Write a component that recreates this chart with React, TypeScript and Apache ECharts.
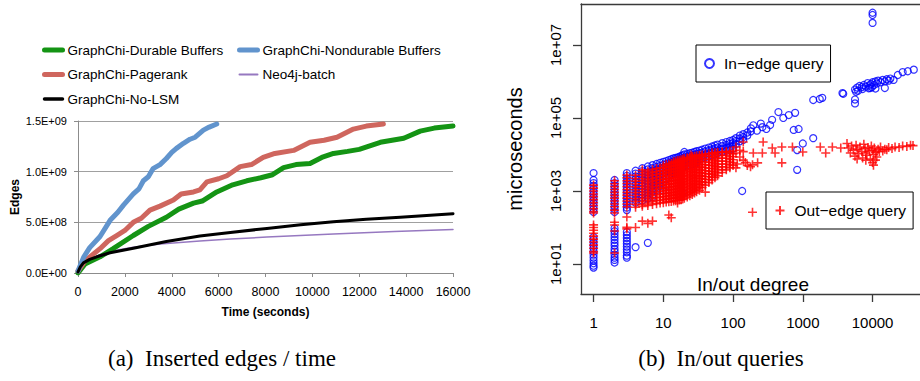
import React, { useEffect, useRef } from 'react';
import * as echarts from 'echarts';

const SANS = '"Liberation Sans", Arial, sans-serif';
const SERIF = '"Liberation Serif", "Times New Roman", serif';

// ---------- (a) Inserted edges / time ----------
const edgeTickValues = [0, 5e8, 1e9, 1.5e9];
const edgeTickLabels = ['0.0E+00', '5.0E+08', '1.0E+09', '1.5E+09'];

// [seconds, edges]
const durableBuffers: [number, number][] = [
  [0, 0.0e9], [300, 0.09e9], [940, 0.16e9], [1500, 0.24e9], [2360, 0.37e9], [3000, 0.46e9],
  [3770, 0.55e9], [4300, 0.63e9], [4930, 0.69e9], [5300, 0.71e9], [5920, 0.8e9], [6600, 0.87e9],
  [7200, 0.91e9], [7800, 0.94e9], [8300, 0.97e9], [8770, 1.04e9], [9300, 1.07e9], [9900, 1.08e9],
  [10400, 1.14e9], [10900, 1.18e9], [11500, 1.2e9], [12000, 1.22e9], [12900, 1.29e9], [13400, 1.31e9],
  [13900, 1.33e9], [14600, 1.4e9], [15200, 1.43e9], [16000, 1.45e9],
];
const nondurableBuffers: [number, number][] = [
  [0, 0.02e9], [250, 0.16e9], [500, 0.25e9], [940, 0.36e9], [1370, 0.52e9], [1700, 0.6e9],
  [1940, 0.67e9], [2360, 0.78e9], [2600, 0.83e9], [2790, 0.91e9], [3000, 0.95e9], [3200, 1.03e9],
  [3500, 1.07e9], [3770, 1.13e9], [4000, 1.19e9], [4200, 1.23e9], [4500, 1.28e9], [4780, 1.32e9],
  [5000, 1.34e9], [5350, 1.41e9], [5600, 1.44e9], [5920, 1.47e9],
];
const pagerank: [number, number][] = [
  [0, 0.02e9], [300, 0.12e9], [940, 0.24e9], [1300, 0.32e9], [1650, 0.37e9], [2000, 0.42e9],
  [2360, 0.5e9], [2700, 0.54e9], [3070, 0.62e9], [3500, 0.66e9], [4070, 0.72e9], [4400, 0.78e9],
  [4930, 0.8e9], [5200, 0.82e9], [5500, 0.9e9], [6000, 0.93e9], [6350, 0.96e9], [6920, 1.05e9],
  [7400, 1.07e9], [7900, 1.14e9], [8400, 1.18e9], [9200, 1.21e9], [9900, 1.29e9], [10500, 1.31e9],
  [11050, 1.34e9], [11750, 1.42e9], [12300, 1.45e9], [13030, 1.47e9],
];
const neo4jBatch: [number, number][] = [
  [0, 0], [300, 0.1e9], [940, 0.18e9], [1500, 0.22e9], [2360, 0.255e9], [3500, 0.285e9],
  [5200, 0.315e9], [6500, 0.335e9], [8060, 0.355e9], [10900, 0.385e9], [13500, 0.41e9], [16000, 0.43e9],
];
const noLsm: [number, number][] = [
  [0, 0.01e9], [100, 0.06e9], [230, 0.1e9], [500, 0.135e9], [800, 0.16e9], [1370, 0.2e9],
  [2360, 0.245e9], [3770, 0.31e9], [5200, 0.365e9], [6500, 0.4e9], [8060, 0.44e9], [9500, 0.475e9],
  [10900, 0.505e9], [12300, 0.53e9], [13750, 0.55e9], [16000, 0.585e9],
];

// ---------- (b) In/out queries ----------
const degreeTicks = [1, 10, 100, 1000, 10000];
const degreeTickLabels = ['1', '10', '100', '1000', '10000'];
const microsTicks = [10, 1e3, 1e5, 1e7];
const microsTickLabels = ['1e+01', '1e+03', '1e+05', '1e+07'];

// In-edge query: [degree, microseconds[]] columns, then scattered points
const inEdgeColumns: [number, number[]][] = [
  [1, [3100, 2000, 1650, 1380, 1150, 950, 800, 660, 550, 460, 380, 320, 265, 55, 46, 38, 32, 27, 22, 18, 15, 12.5, 10.5, 9, 8]],
  [2, [2000, 1650, 1380, 1150, 950, 800, 660, 550, 460, 380, 320, 265, 95, 79, 66, 55, 46, 38, 32, 26, 22, 18, 15, 13, 11]],
  [3, [3100, 2600, 2150, 1800, 1500, 1250, 1040, 870, 720, 600, 500, 420, 350, 300, 75, 62, 52, 43, 36, 30, 25, 21, 17, 15]],
  [4, [3600, 3000, 2500, 2100, 1750, 1450, 1200, 1000, 830, 690, 570, 480, 29]],
  [5, [4200, 3500, 2900, 2400, 2000, 1650, 1380, 1150, 950, 800, 660, 550]],
  [6, [4700, 3900, 3250, 2700, 2250, 1880, 1560, 1300, 1080, 900, 750, 620, 38]],
  [7, [5100, 4250, 3550, 2950, 2450, 2050, 1700, 1400, 1170, 980, 800, 680]],
  [8, [5500, 4600, 3800, 3200, 2650, 2200, 1850, 1530, 1280, 1060]],
  [9, [5900, 4900, 4100, 3400, 2850, 2350, 1960, 1630, 1360]],
  [10, [6300, 5250, 4400, 3650, 3050, 2550, 2100, 1750, 1050]],
  [11, [6600, 5500, 4600, 3800, 3200, 2650, 2200, 1400]],
  [12, [7000, 5800, 4850, 4050, 3350, 2800, 2350]],
  [13, [7400, 6150, 5150, 4300, 3550, 2950]],
  [14, [7800, 6500, 5400, 4500, 3750, 3100]],
  [15, [8100, 6750, 5600, 4700, 3900, 3250]],
  [16, [8300, 6900, 5750, 4800, 4000, 3300]],
  [17, [8700, 7250, 6050, 5050, 4200]],
  [18, [9100, 7600, 6300, 5250, 4400]],
  [19, [9500, 7900, 6600, 5500, 4600, 890]],
  [20, [11700, 10000, 8300, 6950, 5800, 4800]],
  [22, [10300, 8600, 7150, 5950, 4950]],
  [24, [10800, 9000, 7500, 6250, 5200]],
  [26, [11200, 9350, 7800, 6500, 5400]],
  [28, [11700, 9750, 8100, 6750, 5650]],
  [30, [12300, 10250, 8550, 7100, 5900]],
  [33, [12800, 10700, 8900, 7400]],
  [36, [13500, 11250, 9400, 7800]],
  [40, [14500, 12100, 10100, 8400]],
  [45, [15500, 12900, 10750, 8950]],
  [50, [16600, 13800, 11500, 9600]],
  [55, [17600, 14700, 12200, 10200]],
  [60, [18600, 15500, 12900, 10800]],
  [70, [20400, 17000, 14200, 11800]],
  [80, [21900, 18250, 15200, 12700]],
  [90, [23400, 19500, 16250, 13500]],
  [100, [25000, 20800, 17400, 14500]],
  [110, [28000, 23300, 19400]],
  [125, [33000, 27500, 22900]],
  [135, [1000]],
  [140, [36000, 30000, 25000]],
  [160, [40000, 33300]],
  [180, [52000, 43000]],
];
const inEdgeScatter: [number, number][] = [
  [195, 63000], [220, 45000], [250, 70000], [263, 56000], [300, 50000], [340, 64000], [363, 89000],
  [447, 145000], [525, 100000], [630, 120000], [776, 138000], [740, 47000], [870, 50000],
  [830, 13200], [830, 3800], [1000, 20000], [1410, 28000],
  [1410, 310000], [1750, 330000], [1900, 355000], [3700, 480000], [3800, 460000], [5600, 250000], [5600, 320000],
  [5600, 600000], [5800, 520000], [6000, 680000], [6200, 560000], [6500, 750000], [7000, 700000],
  [7200, 620000], [7500, 800000], [8000, 720000], [8500, 900000], [8800, 650000], [9000, 780000],
  [9300, 660000], [9500, 850000], [9800, 700000], [10000, 950000], [10500, 800000], [11000, 1000000],
  [11000, 640000], [11500, 880000], [12000, 1050000], [13000, 950000], [14000, 1100000], [15000, 1000000],
  [15000, 660000], [16000, 1150000], [17000, 1050000], [18000, 1200000], [20000, 1100000],
  [23000, 1500000], [27000, 1800000], [32000, 1900000], [39000, 2100000],
  [10000, 66000000], [10000, 76000000], [10000, 40000000],
];

// Out-edge query: [degree, microseconds[]] columns, then scattered points
const outEdgeColumns: [number, number[]][] = [
  [1, [1450, 1200, 1000, 830, 700, 580, 480, 400, 330, 275, 250, 118, 100, 84, 70, 58, 48, 40, 33, 27, 22, 20]],
  [2, [1900, 1580, 1320, 1100, 920, 760, 640, 530, 440, 370, 300, 250, 140, 117, 80, 20]],
  [3, [2750, 2300, 1900, 1600, 1330, 1100, 920, 770, 640, 530, 440, 370, 195, 102, 92]],
  [4, [2700, 2200, 1860, 1550, 1300, 1080, 900, 750, 620, 520, 430, 360, 100]],
  [5, [3800, 3200, 2700, 2200, 1860, 1550, 1300, 1080, 900, 750, 620, 520, 430, 380, 150]],
  [6, [3500, 2950, 2450, 2050, 1700, 1420, 1180, 980, 820, 680, 560, 470, 400, 130]],
  [7, [3900, 3200, 2700, 2200, 1860, 1550, 1300, 1080, 900, 750, 620, 520, 430, 150]],
  [8, [4100, 3400, 2800, 2350, 1950, 1620, 1350, 1130, 940, 780, 650, 540, 450]],
  [9, [4300, 3500, 2950, 2450, 2050, 1700, 1420, 1180, 980, 820, 680, 560, 470]],
  [10, [5000, 4300, 3600, 3000, 2500, 2100, 1750, 1450, 1200, 1000, 840, 700, 580, 480]],
  [11, [5300, 4500, 3700, 3100, 2600, 2150, 1800, 1500, 1250, 1040, 860, 720, 600, 500]],
  [12, [5500, 4600, 3800, 3200, 2650, 2200, 1850, 1540, 1280, 1070, 890, 740, 620, 510, 220]],
  [13, [5700, 4700, 3900, 3300, 2700, 2270, 1890, 1570, 1310, 1090, 910, 760, 630, 520, 185]],
  [14, [6300, 5800, 4800, 4000, 3300, 2750, 2300, 1920, 1600, 1330, 1100, 920, 770, 640, 530]],
  [15, [6500, 5900, 4900, 4050, 3400, 2800, 2350, 1950, 1620, 1350, 1130, 940, 780, 650, 540]],
  [16, [6800, 6100, 5100, 4200, 3500, 2950, 2450, 2050, 1700, 1420, 1180, 980, 820, 680, 560, 470]],
  [17, [7000, 6200, 5200, 4300, 3600, 3000, 2500, 2070, 1730, 1440, 1200, 1000, 830, 690, 570]],
  [18, [7200, 6200, 5200, 4350, 3600, 3000, 2500, 2090, 1740, 1450, 1210, 1000, 840, 700, 580]],
  [19, [7500, 6500, 5400, 4500, 3700, 3100, 2600, 2150, 1800, 1500, 1250, 1040, 860, 720, 600]],
  [20, [7700, 6800, 5600, 4700, 3900, 3300, 2700, 2270, 1890, 1570, 1310, 1090, 910, 760, 630]],
  [22, [8100, 7300, 6100, 5100, 4200, 3500, 2950, 2450, 2050, 1700, 1420, 1180, 980, 820, 680]],
  [24, [8500, 7900, 6600, 5500, 4600, 3800, 3200, 2650, 2200, 1850, 1540, 1280, 1070, 890, 740]],
  [25, [9700]],
  [26, [8800, 8500, 7100, 5900, 5000, 4100, 3450, 2850, 2400, 2000, 1660, 1380, 1150, 960, 800]],
  [28, [9000, 7850, 6550, 5450, 4550, 3800, 3150, 2600, 2200, 1830, 1520, 1270, 1060, 880]],
  [30, [9300, 8450, 7050, 5900, 4900, 4100, 3400, 2850, 2370, 1970, 1640, 1370, 1140, 950]],
  [33, [9600, 9400, 7800, 6500, 5400, 4500, 3750, 3150, 2600, 2180, 1810, 1510, 1260, 1050]],
  [36, [9900, 9300, 7750, 6450, 5400, 4500, 3750, 3100, 2600, 2160, 1800, 1500, 1250]],
  [40, [10300, 9000, 7500, 6250, 5200, 4350, 3600, 3000, 2500, 2090, 1740, 1450, 930]],
  [45, [10500, 8800, 7300, 6100, 5100, 4200, 3500, 2940, 2450, 2040, 1700]],
  [50, [11200, 10300, 8600, 7200, 6000, 5000, 4150, 3450, 2900, 2400, 2000]],
  [55, [11300, 9900, 8250, 6900, 5750, 4800, 4000, 3300, 2750, 2300]],
  [60, [11500, 11200, 9300, 7800, 6500, 5400, 4500, 3750, 3100, 2600]],
  [70, [11800, 11400, 9500, 7950, 6600, 5500, 4600, 3850, 3200]],
  [80, [12000, 11400, 9450, 7900, 6550, 5500, 4550, 3800]],
  [90, [12200, 10700, 8900, 7450, 6200, 5200, 4300]],
  [100, [12500, 10400, 8650, 7200, 6000, 5000]],
  [110, [16000, 11000, 4300]],
  [125, [13000, 8500]],
  [140, [22000, 12000, 7000]],
];
const outEdgeScatter: [number, number][] = [
  [115, 5500], [150, 6000], [160, 5000],
  [178, 4600], [190, 263], [190, 5200], [195, 11000], [225, 5900], [263, 11000], [270, 22000],
  [365, 15000], [400, 11000], [500, 16000], [500, 5900], [710, 16000], [1000, 11700],
  [1780, 16000], [2130, 11000], [2650, 16000], [3500, 15000],
  [4300, 20000], [4500, 15000], [4800, 11000], [5000, 17000], [5300, 13000], [5600, 9000],
  [5800, 18000], [6000, 14000], [6000, 7500], [6300, 10500], [6600, 16000], [7000, 12000],
  [7200, 8000], [7500, 19000], [7800, 14500], [8000, 11000], [8000, 7000], [8300, 9500],
  [8600, 15500], [9000, 12500], [9300, 7500], [9600, 17000], [10000, 13000], [10000, 6000],
  [10300, 10000], [10300, 5100], [10600, 15000], [11000, 11500], [11000, 7000], [11500, 8500],
  [12000, 14000], [12500, 12000], [13000, 16000], [14000, 12500], [15000, 14000], [16000, 13500],
  [17000, 15500], [19000, 14500], [21000, 16000], [24000, 15500], [27000, 17000], [31000, 16500],
  [35000, 18000], [38000, 17500],
];

const expandColumns = (cols: [number, number[]][]): [number, number][] =>
  cols.flatMap(([d, values]) => values.map((us) => [d, us] as [number, number]));
const inEdgeQuery = [...expandColumns(inEdgeColumns), ...inEdgeScatter];
const outEdgeQuery = [...expandColumns(outEdgeColumns), ...outEdgeScatter];

const log10Pair = ([d, us]: [number, number]) => [Math.log10(d), Math.log10(us)];
const matchTick = (ticks: number[], labels: string[]) => (v: number) => {
  const i = ticks.findIndex((t) => Math.abs(Math.log10(t) - v) < 1e-6);
  return i >= 0 ? labels[i] : '';
};

const lineSeries = (name: string, data: [number, number][], color: string, width: number, z: number) => ({
  type: 'line',
  name,
  xAxisIndex: 0,
  yAxisIndex: 0,
  data,
  symbol: 'none',
  smooth: false,
  z,
  itemStyle: { color },
  lineStyle: { color, width, cap: 'round', join: 'round' },
  silent: true,
});

const legendLine = (name: string, width: number) => ({ name, lineStyle: { width, cap: 'round' } });

const leftLegendBase = {
  orient: 'vertical',
  itemWidth: 18,
  itemHeight: 14,
  itemGap: 10.5,
  selectedMode: false,
  itemStyle: { opacity: 0, color: 'rgba(0,0,0,0)', borderWidth: 0 },
  lineStyle: { width: 'inherit', cap: 'round' },
  textStyle: { fontSize: 13.5, color: '#000', fontFamily: SANS },
};

export default function App() {
  const ref = useRef<HTMLDivElement>(null);

  useEffect(() => {
    if (!ref.current) return;
    const chart = echarts.init(ref.current, undefined, { renderer: 'svg' });
    const rightAxisColor = '#3a3a3a';

    chart.setOption({
      animation: false,
      backgroundColor: '#ffffff',
      textStyle: { fontFamily: SANS },
      grid: [
        { left: 78, top: 121, right: 467, bottom: 108, containLabel: false },
        { left: 581, top: 4, right: 0, bottom: 87, containLabel: false },
      ],
      legend: [
        {
          ...leftLegendBase,
          data: [legendLine('GraphChi-Durable Buffers', 5), legendLine('GraphChi-Pagerank', 5), legendLine('GraphChi-No-LSM', 3.5)],
          left: 37, top: 38,
        },
        {
          ...leftLegendBase,
          data: [legendLine('GraphChi-Nondurable Buffers', 5), legendLine('Neo4j-batch', 2)],
          left: 232, top: 38,
        },
        {
          data: ['In\u2212edge query'],
          left: 696, top: 45, padding: [10.5, 7, 10.5, 8], itemWidth: 9, itemHeight: 9,
          borderColor: '#000', borderWidth: 1, backgroundColor: '#fff', selectedMode: false,
          textStyle: { fontSize: 15.5, color: '#000', fontFamily: SANS, padding: [0, 0, 0, 5] },
        },
        {
          data: ['Out\u2212edge query'],
          left: 766, top: 192, padding: [10.5, 7, 10.5, 8.5], itemWidth: 9, itemHeight: 9,
          borderColor: '#000', borderWidth: 1, backgroundColor: '#fff', selectedMode: false,
          textStyle: { fontSize: 15.5, color: '#000', fontFamily: SANS, padding: [0, 0, 0, 5] },
        },
      ],
      xAxis: [
        {
          type: 'value', gridIndex: 0, min: 0, max: 16000, interval: 2000,
          name: 'Time (seconds)', nameLocation: 'middle', nameGap: 33,
          nameTextStyle: { fontSize: 12, fontWeight: 'bold', color: '#000', fontFamily: SANS },
          axisLine: { show: true, onZero: false, lineStyle: { color: '#8c8c8c', width: 1 } },
          axisTick: { show: true, length: 4, inside: false, lineStyle: { color: '#8c8c8c' } },
          axisLabel: { fontSize: 12.5, color: '#000', margin: 12, fontFamily: SANS, formatter: (v: number) => String(v) },
          splitLine: { show: false },
        },
        {
          type: 'value', gridIndex: 1, min: -0.18, max: 4.68,
          axisLine: { show: true, onZero: false, lineStyle: { color: rightAxisColor, width: 1.3 } },
          axisTick: { show: true, length: 8, customValues: degreeTicks.map(Math.log10), lineStyle: { color: rightAxisColor, width: 1.3 } },
          axisLabel: {
            customValues: degreeTicks.map(Math.log10), fontSize: 15, color: '#000', margin: 21, fontFamily: SANS,
            formatter: matchTick(degreeTicks, degreeTickLabels),
          },
          splitLine: { show: false },
        },
        {
          type: 'value', gridIndex: 1, position: 'top', min: -0.18, max: 4.68,
          axisLine: { show: true, onZero: false, lineStyle: { color: rightAxisColor, width: 1.3 } },
          axisTick: { show: false }, axisLabel: { show: false }, splitLine: { show: false },
        },
      ],
      yAxis: [
        {
          type: 'value', gridIndex: 0, min: 0, max: 1.5e9, interval: 5e8,
          name: 'Edges', nameLocation: 'middle', nameGap: 57,
          nameTextStyle: { fontSize: 12, fontWeight: 'bold', color: '#000', fontFamily: SANS },
          axisLine: { show: true, onZero: false, lineStyle: { color: '#8c8c8c', width: 1 } },
          axisTick: { show: true, length: 4, lineStyle: { color: '#8c8c8c' } },
          axisLabel: {
            fontSize: 11, color: '#000', margin: 11, fontFamily: SANS,
            formatter: (v: number) => {
              const i = edgeTickValues.indexOf(v);
              return i >= 0 ? edgeTickLabels[i] : '';
            },
          },
          splitLine: { show: true, lineStyle: { color: '#a0a0a0', width: 1 } },
        },
        {
          type: 'value', gridIndex: 1, min: 0.18, max: 8.12,
          name: 'microseconds', nameLocation: 'middle', nameGap: 56,
          nameTextStyle: { fontSize: 20, color: '#000', fontFamily: SANS },
          axisLine: { show: true, onZero: false, lineStyle: { color: rightAxisColor, width: 1.3 } },
          axisTick: { show: true, length: 8, customValues: microsTicks.map(Math.log10), lineStyle: { color: rightAxisColor, width: 1.3 } },
          axisLabel: {
            customValues: microsTicks.map(Math.log10), rotate: 90, fontSize: 15, color: '#000', margin: 18, fontFamily: SANS,
            formatter: matchTick(microsTicks, microsTickLabels),
          },
          splitLine: { show: false },
        },
      ],
      series: [
        lineSeries('Neo4j-batch', neo4jBatch, '#9678c0', 1.5, 2),
        lineSeries('GraphChi-Durable Buffers', durableBuffers, '#149414', 5, 3),
        lineSeries('GraphChi-Pagerank', pagerank, '#cf665e', 5, 3),
        lineSeries('GraphChi-Nondurable Buffers', nondurableBuffers, '#6194cd', 5, 3),
        lineSeries('GraphChi-No-LSM', noLsm, '#000000', 3, 4),
        {
          type: 'scatter', name: 'In\u2212edge query', xAxisIndex: 1, yAxisIndex: 1,
          data: inEdgeQuery.map(log10Pair), symbol: 'circle', symbolSize: 7, silent: true,
          itemStyle: { color: 'rgba(0,0,0,0)', borderColor: '#0000ff', borderWidth: 1.2 },
        },
        {
          type: 'scatter', name: 'Out\u2212edge query', xAxisIndex: 1, yAxisIndex: 1,
          data: outEdgeQuery.map(log10Pair), symbol: 'path://M4 0V8M0 4H8', symbolSize: 9, silent: true,
          itemStyle: { color: 'rgba(0,0,0,0)', borderColor: '#ff0000', borderWidth: 1.6 },
        },
      ],
      graphic: [
        {
          type: 'text', x: 753, y: 284, z: 10,
          style: { text: 'In/out degree', fontSize: 19, fontFamily: SANS, fill: '#000', align: 'center', verticalAlign: 'middle' },
        },
        {
          type: 'text', x: 222, y: 358,
          style: { text: '(a)\u00a0 Inserted edges / time', fontSize: 23, fontFamily: SERIF, fill: '#000', align: 'center', verticalAlign: 'middle' },
        },
        {
          type: 'text', x: 721, y: 358,
          style: { text: '(b)\u00a0 In/out queries', fontSize: 23, fontFamily: SERIF, fill: '#000', align: 'center', verticalAlign: 'middle' },
        },
      ],
    });

    return () => chart.dispose();
  }, []);

  return (
    <div
      ref={ref}
      style={{ position: 'absolute', left: 0, top: 0, width: 920, height: 381, background: '#fff' }}
    />
  );
}
